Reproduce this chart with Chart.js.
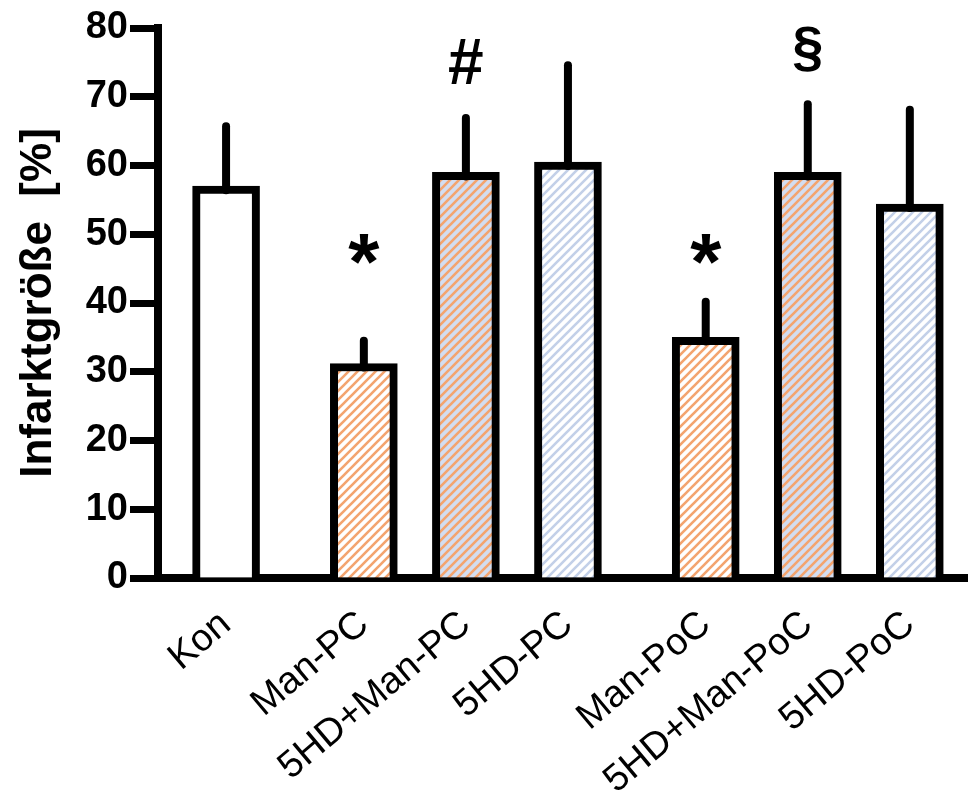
<!DOCTYPE html>
<html><head><meta charset="utf-8">
<script src="https://cdn.jsdelivr.net/npm/chart.js@4/dist/chart.umd.min.js"></script>
<style>html,body{margin:0;padding:0;background:#fff}#wrap{width:968px;height:791px;position:relative}</style>
</head><body><div id="wrap"><canvas id="c"></canvas></div>
<script>
// ---- data ----
const categories = ['Kon','Man-PC','5HD+Man-PC','5HD-PC','Man-PoC','5HD+Man-PoC','5HD-PoC'];
const groups     = [0, 1, 1, 1, 2, 2, 2];
const means      = [57.0, 31.2, 59.0, 60.5, 35.0, 59.0, 54.4];
const errorTops  = [65.7, 34.5, 66.9, 74.6, 40.2, 68.9, 68.1];
const marks      = ['', '*', '#', '', '*', '§', ''];
const markLevels = [null, 47.8, 75.2, null, 47.8, 77.0, null];
const fillKinds  = ['plain','orange','mixed','blue','orange','mixed','blue'];
const yTicks     = [0,10,20,30,40,50,60,70,80];

const GROUP_GAP = 0.35;
const xpos = categories.map((c,i)=> i + groups[i]*GROUP_GAP);

function hatch(bg, line){
  const s = 9, p = document.createElement('canvas');
  p.width = s; p.height = s;
  const g = p.getContext('2d');
  g.fillStyle = bg; g.fillRect(0,0,s,s);
  g.strokeStyle = line; g.lineWidth = 2.6; g.lineCap = 'square';
  g.beginPath();
  g.moveTo(0,s); g.lineTo(s,0);
  g.moveTo(-s/2, s/2); g.lineTo(s/2, -s/2);
  g.moveTo(s/2, s*1.5); g.lineTo(s*1.5, s/2);
  g.stroke();
  return g.createPattern(p,'repeat');
}
const ctx0 = document.getElementById('c').getContext('2d');
const ORANGE = '#F3A46F', LBLUE = '#D3DDF0', BLUELINE = '#C3D0E8';
const fills = {
  plain: '#ffffff',
  orange: hatch('#ffffff', ORANGE),
  mixed: hatch(LBLUE, ORANGE),
  blue: hatch('#ffffff', BLUELINE)
};

const extras = {
  id: 'extras',
  afterDatasetsDraw(chart){
    const {ctx, scales:{x, y}} = chart;
    ctx.save();
    ctx.strokeStyle = '#000'; ctx.lineWidth = 8; ctx.lineCap = 'round';
    xpos.forEach((xv,i)=>{
      const px = x.getPixelForValue(xv);
      ctx.beginPath();
      ctx.moveTo(px, y.getPixelForValue(means[i]) + 4);
      ctx.lineTo(px, y.getPixelForValue(errorTops[i]));
      ctx.stroke();
    });
    ctx.fillStyle = '#000';
    ctx.textAlign = 'center'; ctx.textBaseline = 'alphabetic';
    marks.forEach((m,i)=>{
      if(!m) return;
      const size = m === '*' ? 80 : (m === '#' ? 64 : 56);
      ctx.font = 'bold ' + size + 'px "Liberation Sans", Arial, sans-serif';
      const mt = ctx.measureText(m);
      const cy = y.getPixelForValue(markLevels[i]);
      const base = cy + (mt.actualBoundingBoxAscent - mt.actualBoundingBoxDescent)/2;
      ctx.fillText(m, x.getPixelForValue(xpos[i]), base);
    });
    ctx.restore();
  }
};

new Chart(ctx0, {
  type: 'bar',
  data: {
    datasets: [{
      data: xpos.map((xv,i)=>({x: xv, y: means[i]})),
      backgroundColor: fillKinds.map(k=>fills[k]),
      borderColor: '#000',
      borderWidth: 8,
      borderSkipped: 'bottom',
      barThickness: 67
    }]
  },
  options: {
    responsive: true,
    maintainAspectRatio: false,
    animation: false,
    layout: { padding: { top: 28, right: 0, left: 0, bottom: 0 } },
    plugins: { legend: {display:false}, tooltip: {enabled:false} },
    scales: {
      x: {
        type: 'linear',
        offset: false,
        min: -0.667, max: 7.27,
        afterBuildTicks(s){ s.ticks = xpos.map(v=>({value:v})); },
        afterFit(s){ s.height = 213; },
        grid: { display: true, drawOnChartArea: false, drawTicks: false, offset: false },
        border: { display: true, width: 8, color: '#000' },
        ticks: {
          autoSkip: false, minRotation: 40, maxRotation: 40,
          padding: 24, color: '#000',
          font: { family: '"Liberation Sans", Arial, sans-serif', size: 38 },
          callback(v){ const i = xpos.findIndex(p=>Math.abs(p-v)<1e-6); return i>=0 ? categories[i] : ''; }
        }
      },
      y: {
        min: 0, max: 80,
        afterBuildTicks(s){ s.ticks = yTicks.map(v=>({value:v})); },
        afterFit(s){ s.width = 158; },
        grid: { drawOnChartArea: false, drawTicks: true, tickLength: 28, tickWidth: 7, tickColor: '#000' },
        border: { display: true, width: 8, color: '#000' },
        ticks: {
          padding: 2, color: '#000',
          font: { family: '"Liberation Sans", Arial, sans-serif', size: 38, weight: 'bold' }
        },
        title: {
          display: true, text: 'Infarktgröße  [%]', color: '#000',
          padding: { top: 12, bottom: 0 },
          font: { family: '"Liberation Sans", Arial, sans-serif', size: 44, weight: 'bold' }
        }
      }
    }
  },
  plugins: [extras]
});
</script>
</body></html>
